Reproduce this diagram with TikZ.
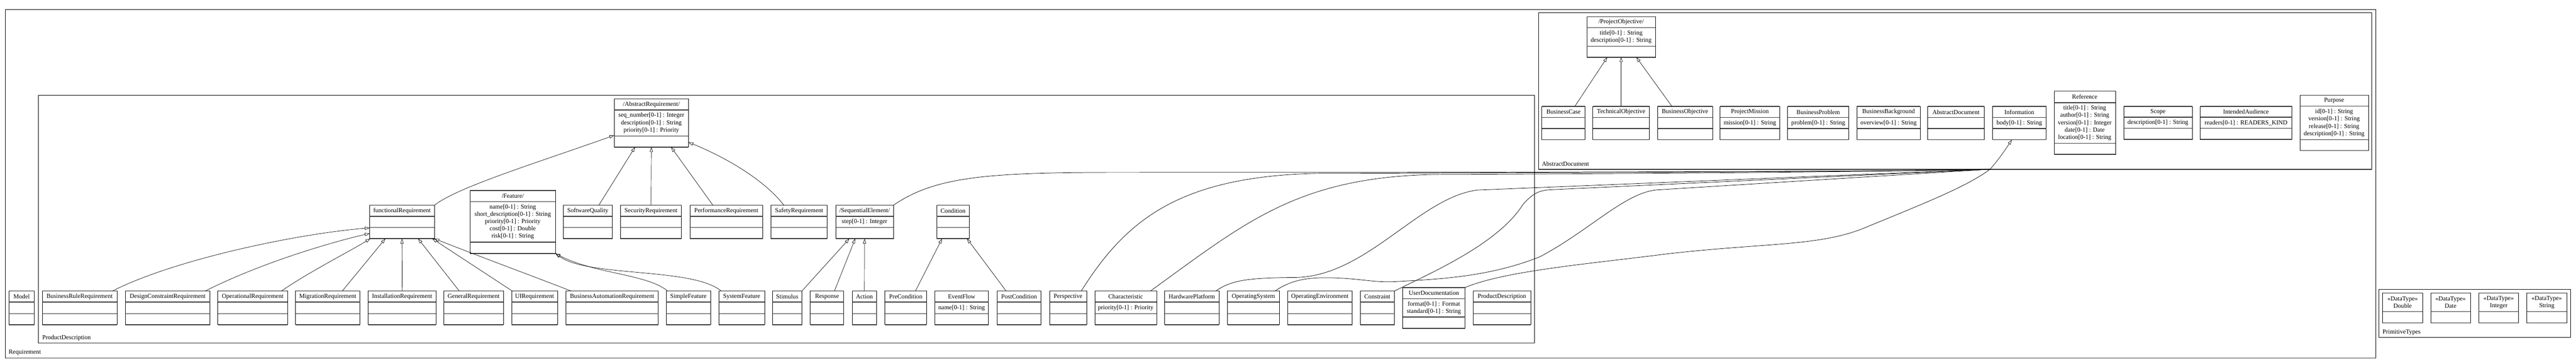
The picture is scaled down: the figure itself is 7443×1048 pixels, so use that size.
\documentclass[tikz,border=0pt]{standalone}
\usepackage{fontspec}
\setmainfont{Liberation Serif}
\usetikzlibrary{arrows.meta}
\tikzset{
  clsbox/.style={draw=black, line width=1pt, inner sep=0pt, outer sep=0pt, fill=white, anchor=north west},
  pkgbox/.style={draw=black, line width=1.2pt, inner sep=0pt, outer sep=0pt, anchor=north west},
  sepline/.style={line width=2.2pt, draw=black!80},
  txt/.style={inner sep=0pt, font=\fontsize{18}{21}\selectfont, align=center},
  pkglabel/.style={inner sep=0pt, anchor=west, font=\fontsize{18}{21}\selectfont},
  gen/.style={draw=black, line width=1pt, -{Triangle[open,length=14pt,width=9pt]}},
  flow/.style={draw=black, line width=1.1pt},
}
\newcommand{\umlcls}[9]{%
  \node[clsbox, minimum width={#3-#2}, minimum height={#7-#4}] (#1) at (#2,#4) {};
  \draw[sepline] (#2,#4) -- (#3,#4);
  \draw[sepline] (#2,#5) -- (#3,#5);
  \draw[sepline] (#2,#6) -- (#3,#6);
  \draw[sepline] (#2,#7) -- (#3,#7);
  \node[txt] (#1-t) at ({(#2+#3)/2},{(#4+#5)/2}) {#8};
  \node[txt] (#1-a) at ({(#2+#3)/2},{(#5+#6)/2}) {#9};
}
\newcommand{\rowB}[5]{\umlcls{#1}{#2}{#3}{839}{871}{904}{936}{#4}{#5}}
\newcommand{\rowM}[5]{\umlcls{#1}{#2}{#3}{592}{624}{656}{688}{#4}{#5}}
\newcommand{\rowD}[5]{\umlcls{#1}{#2}{#3}{307}{339}{371}{403}{#4}{#5}}
\newcommand{\dtype}[4]{%
  \node[clsbox, minimum width={#3-#2}, minimum height=86] (#1) at (#2,845) {};
  \draw[sepline] (#2,845) -- (#3,845);
  \draw[sepline] (#2,898) -- (#3,898);
  \draw[sepline] (#2,931) -- (#3,931);
  \node[txt] (#1-t) at ({(#2+#3)/2},871.5) {«DataType»\\#4};
}
\begin{document}
\begin{tikzpicture}[x=1pt,y=-1pt]
\useasboundingbox (0,0) rectangle (7443,1048);
\fill[white] (0,0) rectangle (7443,1048);

% ---------- packages ----------
\node[pkgbox, minimum width=6849, minimum height=1005] (pReq) at (16,27) {};
\draw[sepline] (16,1032) -- (6865,1032);
\node[pkglabel] (pReq-l) at (25,1017) {Requirement};

\node[pkgbox, minimum width=4323, minimum height=715] (pPD) at (111,274) {};
\draw[sepline] (111,989) -- (4434,989);
\node[pkglabel] (pPD-l) at (122,975) {ProductDescription};

\node[pkgbox, minimum width=2408, minimum height=451] (pAD) at (4445,37) {};
\draw[sepline] (4445,488) -- (6853,488);
\node[pkglabel] (pAD-l) at (4455,473) {AbstractDocument};

\node[pkgbox, minimum width=553, minimum height=139] (pPT) at (6874,834) {};
\node[pkglabel] (pPT-l) at (6884,958) {PrimitiveTypes};

% ---------- AbstractDocument ----------
\umlcls{po}{4585}{4783}{48}{80}{133}{165}{/ProjectObjective/}{title[0-1] : String\\description[0-1] : String}
\rowD{bc}{4455}{4580}{BusinessCase}{}
\rowD{tobj}{4602}{4766}{TechnicalObjective}{}
\rowD{bo}{4789}{4948}{BusinessObjective}{}
\rowD{pm}{4970}{5142}{ProjectMission}{mission[0-1] : String}
\rowD{bp}{5165}{5342}{BusinessProblem}{problem[0-1] : String}
\rowD{bb}{5365}{5548}{BusinessBackground}{overview[0-1] : String}
\rowD{ad}{5570}{5733}{AbstractDocument}{}
\rowD{info}{5757}{5912}{Information}{body[0-1] : String}
\umlcls{refc}{5935}{6112}{263}{296}{413}{445}{Reference}{title[0-1] : String\\author[0-1] : String\\version[0-1] : Integer\\date[0-1] : Date\\location[0-1] : String}
\umlcls{scope}{6136}{6334}{307}{338}{370}{402}{Scope}{description[0-1] : String}
\umlcls{ia}{6357}{6622}{307}{338}{370}{402}{IntendedAudience}{readers[0-1] : READERS\_KIND}
\umlcls{purp}{6645}{6843}{275}{306}{403}{434}{Purpose}{id[0-1] : String\\version[0-1] : String\\release[0-1] : String\\description[0-1] : String}

% ---------- ProductDescription ----------
\umlcls{ar}{1775}{1989}{285}{317}{392}{424}{/AbstractRequirement/}{seq\_number[0-1] : Integer\\description[0-1] : String\\priority[0-1] : Priority}
\umlcls{feat}{1358}{1605}{549}{581}{698}{731}{/Feature/}{name[0-1] : String\\short\_description[0-1] : String\\priority[0-1] : Priority\\cost[0-1] : Double\\risk[0-1] : String}
\rowM{fr}{1068}{1255}{functionalRequirement}{}
\rowM{sq}{1628}{1769}{SoftwareQuality}{}
\rowM{secr}{1793}{1969}{SecurityRequirement}{}
\rowM{perf}{1993}{2204}{PerformanceRequirement}{}
\rowM{safe}{2228}{2390}{SafetyRequirement}{}
\rowM{seq}{2415}{2581}{/SequentialElement/}{step[0-1] : Integer}
\rowM{cond}{2706}{2801}{Condition}{}

\rowB{model}{26}{99}{Model}{}
\rowB{brr}{122}{338}{BusinessRuleRequirement}{}
\rowB{dcr}{362}{607}{DesignConstraintRequirement}{}
\rowB{opr}{629}{831}{OperationalRequirement}{}
\rowB{mig}{854}{1040}{MigrationRequirement}{}
\rowB{inst}{1064}{1260}{InstallationRequirement}{}
\rowB{genr}{1282}{1455}{GeneralRequirement}{}
\rowB{ui}{1478}{1611}{UIRequirement}{}
\rowB{bar}{1635}{1902}{BusinessAutomationRequirement}{}
\rowB{sf}{1925}{2053}{SimpleFeature}{}
\rowB{syf}{2077}{2209}{SystemFeature}{}
\rowB{stim}{2232}{2317}{Stimulus}{}
\rowB{resp}{2341}{2438}{Response}{}
\rowB{act}{2462}{2533}{Action}{}
\rowB{prec}{2557}{2677}{PreCondition}{}
\rowB{evf}{2701}{2856}{EventFlow}{name[0-1] : String}
\rowB{postc}{2881}{3008}{PostCondition}{}
\rowB{persp}{3032}{3140}{Perspective}{}
\rowB{chr}{3163}{3342}{Characteristic}{priority[0-1] : Priority}
\rowB{hw}{3365}{3522}{HardwarePlatform}{}
\rowB{os}{3547}{3696}{OperatingSystem}{}
\rowB{oe}{3720}{3907}{OperatingEnvironment}{}
\rowB{cons}{3930}{4029}{Constraint}{}
\umlcls{ud}{4053}{4233}{829}{861}{914}{947}{UserDocumentation}{format[0-1] : Format\\standard[0-1] : String}
\rowB{pdc}{4256}{4423}{ProductDescription}{}

% ---------- PrimitiveTypes ----------
\dtype{dDouble}{6884}{7000}{Double}
\dtype{dDate}{7023}{7138}{Date}
\dtype{dInt}{7162}{7277}{Integer}
\dtype{dStr}{7301}{7416}{String}

% ---------- generalizations: AbstractDocument ----------
\draw[gen] ([xshift=32.5pt]bc.north) -- ([xshift=-40pt]po.south);
\draw[gen] (tobj.north) -- (po.south);
\draw[gen] ([xshift=-37.5pt]bo.north) -- ([xshift=44pt]po.south);

% ---------- generalizations: AbstractRequirement ----------
\draw[gen] (fr.north east) .. controls (1320,540) and (1550,470) .. ([yshift=-35.5pt]ar.west);
\draw[gen] ([xshift=31.5pt]sq.north) -- ([xshift=-47pt]ar.south);
\draw[gen] (secr.north) -- (ar.south);
\draw[gen] ([xshift=-38.5pt]perf.north) -- ([xshift=57pt]ar.south);
\draw[gen] ([xshift=-44pt]safe.north) .. controls (2210,520) and (2100,455) .. ([yshift=-55.5pt]ar.east);

% ---------- generalizations: functionalRequirement ----------
\draw[gen] ([xshift=-13pt]brr.north east) .. controls (500,750) and (850,675) .. ([yshift=-17pt]fr.west);
\draw[gen] ([xshift=-14pt]dcr.north east) .. controls (750,760) and (950,700) .. ([yshift=-33pt]fr.west);
\draw[gen] ([xshift=-18pt]opr.north east) .. controls (900,780) and (1010,725) .. ([xshift=2pt]fr.south west);
\draw[gen] ([xshift=42pt]mig.north) -- ([xshift=-48pt]fr.south);
\draw[gen] (inst.north) -- (fr.south);
\draw[gen] ([xshift=-41.5pt]genr.north) -- ([xshift=46.5pt]fr.south);
\draw[gen] ([xshift=2pt]ui.north west) -- ([xshift=-6pt]fr.south east);
\draw[gen] ([xshift=15pt]bar.north west) .. controls (1550,800) and (1400,745) .. (fr.south east);

% ---------- generalizations: Feature ----------
\draw[gen] ([xshift=4pt]sf.north west) .. controls (1870,790) and (1720,790) .. (feat.south east);
\draw[gen] ([xshift=7pt]syf.north west) .. controls (2000,770) and (1700,800) .. (feat.south east);

% ---------- generalizations: SequentialElement / Condition ----------
\draw[gen] (stim.north east) -- ([xshift=-44pt]seq.south);
\draw[gen] ([xshift=21.5pt]resp.north) -- ([xshift=-27pt]seq.south);
\draw[gen] (act.north) -- (seq.south);
\draw[gen] ([xshift=28pt]prec.north) -- ([xshift=-31.5pt]cond.south);
\draw[gen] ([xshift=-37.5pt]postc.north) -- ([xshift=40.5pt]cond.south);

% ---------- generalizations: Information ----------
\coordinate (conv) at (5750,488);
\draw[flow] (seq.north east) .. controls (2700,510) and (2850,498) .. (3200,497) .. controls (4500,497) and (5500,495) .. (conv);
\draw[flow] ([xshift=-16pt]persp.north east) .. controls (3250,640) and (3400,510) .. (3800,500) .. controls (4800,497) and (5500,494) .. (conv);
\draw[flow] ([xshift=-18pt]chr.north east) .. controls (3600,640) and (3750,510) .. (4150,503) .. controls (4900,500) and (5500,494) .. (conv);
\draw[flow] ([xshift=-9pt]hw.north east) .. controls (3560,805) and (3620,801) .. (3745,800) .. controls (3950,795) and (4100,570) .. (4268,548) -- (conv);
\draw[flow] ([xshift=-12pt]os.north east) .. controls (3740,800) and (3800,800) .. (3850,801) .. controls (3930,803) and (3970,815) .. (4030,812) .. controls (4150,805) and (4300,800) .. (4450,740) .. controls (4600,660) and (4700,550) .. (4795,547) -- (conv);
\draw[flow] (cons.north east) .. controls (4150,780) and (4330,700) .. (4400,590) .. controls (4430,555) and (4450,549) .. (4480,547) -- (conv);
\draw[flow] (ud.north east) .. controls (4350,780) and (4600,760) .. (4816,732) .. controls (5100,700) and (5250,710) .. (5380,660) .. controls (5550,590) and (5680,540) .. (conv);
\draw[gen] (conv) .. controls (5775,460) and (5795,430) .. ([xshift=-21.5pt]info.south);
\end{tikzpicture}
\end{document}
